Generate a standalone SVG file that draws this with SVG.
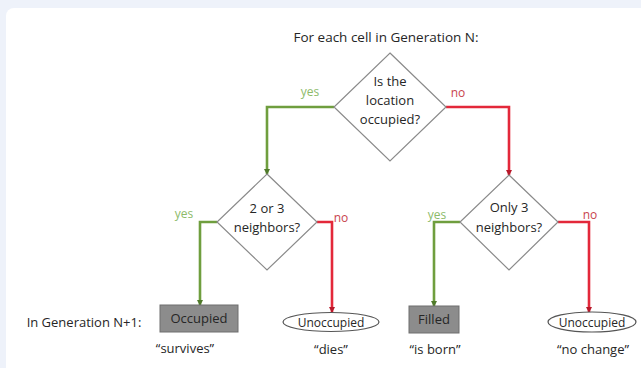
<svg xmlns="http://www.w3.org/2000/svg" width="641" height="368" viewBox="0 0 641 368">
<style>
text{font-family:"Open Sans","Liberation Sans",sans-serif;font-size:13px;fill:#262626;text-anchor:middle;dominant-baseline:central}
.dia{fill:#fff;stroke:#8a8a8a;stroke-width:1.2}
.box{fill:#8c8c8c;stroke:#6e6e6e;stroke-width:1}
.ell{fill:#fff;stroke:#555;stroke-width:1.2}
.et{font-size:12px}
.g{fill:none;stroke:#6f9e3e;stroke-width:2.6}
.r{fill:none;stroke:#e3283a;stroke-width:2.6}
.yl{fill:#8dbb6a;font-size:12px}
.nl{fill:#c8434d;font-size:12px}
</style>
<defs>
<marker id="ag" viewBox="0 0 6 6" refX="5" refY="3" markerWidth="2.4" markerHeight="2.4" orient="auto" markerUnits="strokeWidth"><path d="M0,0 L6,3 L0,6 Z" fill="#4f7a2a"/></marker>
<marker id="ar" viewBox="0 0 6 6" refX="5" refY="3" markerWidth="2.4" markerHeight="2.4" orient="auto" markerUnits="strokeWidth"><path d="M0,0 L6,3 L0,6 Z" fill="#b8182a"/></marker>
</defs>
<rect x="0" y="0" width="641" height="368" fill="#eef2fa"/>
<rect x="6" y="8" width="700" height="400" rx="8" fill="#fff"/>
<text x="386" y="37" style="font-size:13.5px">For each cell in Generation N:</text>
<g id="connectors">
<path class="g" d="M334,107 H267 V174" marker-end="url(#ag)"/>
<path class="r" d="M446,107 H509 V175" marker-end="url(#ar)"/>
<path class="g" d="M217,222 H200 V305" marker-end="url(#ag)"/>
<path class="r" d="M317,222 H332 V312" marker-end="url(#ar)"/>
<path class="g" d="M460,222 H434 V306" marker-end="url(#ag)"/>
<path class="r" d="M558,222 H589 V312" marker-end="url(#ar)"/>
<text class="yl" x="310" y="91">yes</text>
<text class="nl" x="458" y="92">no</text>
<text class="yl" x="184" y="213">yes</text>
<text class="nl" x="341" y="217">no</text>
<text class="yl" x="437" y="214">yes</text>
<text class="nl" x="590" y="214">no</text>
</g>
<g id="q1">
<polygon class="dia" points="390,53 446,107 390,161 334,107"/>
<text x="390" y="81">Is the</text>
<text x="390" y="100">location</text>
<text x="390" y="119">occupied?</text>
</g>
<g id="q2">
<polygon class="dia" points="267,174 317,222 267,270 217,222"/>
<text x="267" y="208">2 or 3</text>
<text x="267" y="227">neighbors?</text>
</g>
<g id="q3">
<polygon class="dia" points="509,175 558,222 509,270 460,222"/>
<text x="509" y="207">Only 3</text>
<text x="509" y="227">neighbors?</text>
</g>
<text x="84" y="322">In Generation N+1:</text>
<g id="occupied">
<rect class="box" x="160" y="305" width="78" height="27"/>
<text x="199" y="318">Occupied</text>
<text x="185" y="348">“survives”</text>
</g>
<g id="dies">
<ellipse class="ell" cx="331" cy="322" rx="48" ry="9.5"/>
<text class="et" x="331" y="322">Unoccupied</text>
<text x="331" y="349">“dies”</text>
</g>
<g id="filled">
<rect class="box" x="409" y="306" width="50" height="27"/>
<text x="434" y="319">Filled</text>
<text x="435" y="349">“is born”</text>
</g>
<g id="nochange">
<ellipse class="ell" cx="592" cy="322" rx="44" ry="10"/>
<text class="et" x="592" y="322">Unoccupied</text>
<text x="593" y="349">“no change”</text>
</g>
</svg>
